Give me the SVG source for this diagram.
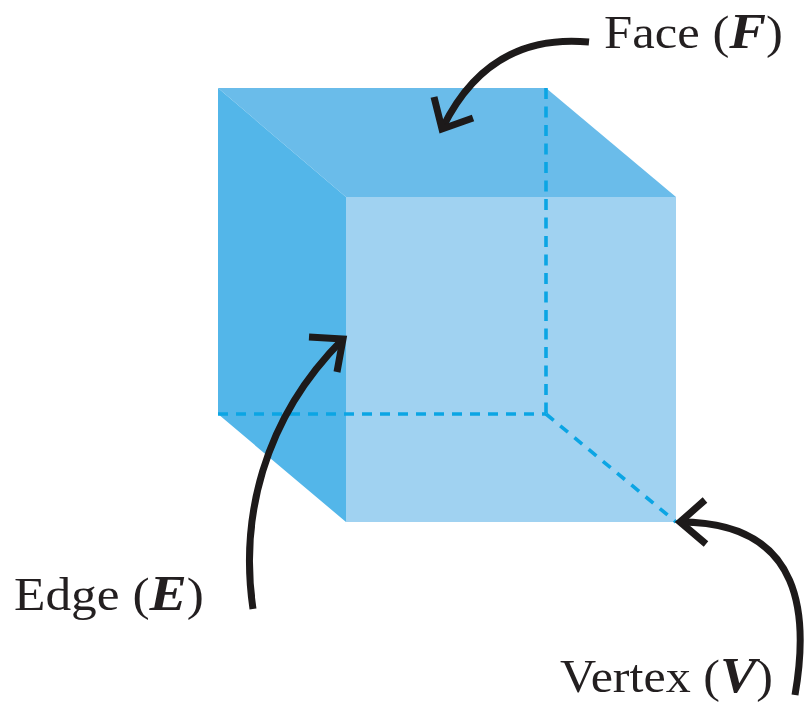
<svg xmlns="http://www.w3.org/2000/svg" width="804" height="704" viewBox="0 0 804 704">
<style>
.lbl{font-family:"Liberation Serif","Times New Roman",serif;font-size:46px;fill:#231f20}
.var{font-weight:bold;font-style:italic;font-size:50px}
.hid{fill:none;stroke:#0ba5e4;stroke-width:3.6}
.h{stroke-dasharray:10 8}
.v{stroke-dasharray:11 7.5}
.d{stroke-dasharray:10 8.5}
.arr{fill:none;stroke:#1d1a1a;stroke-width:7}
</style>
<rect width="804" height="704" fill="#fff"/>
<g id="cube">
<polygon id="face-top" points="218,88 546,88 676,197 346,197" fill="#6abcea"/>
<polygon id="face-left" points="218,88 346,197 346,522 218,414" fill="#53b6e9"/>
<polygon id="face-front" points="346,197 676,197 676,522 346,522" fill="#a0d2f1"/>
<path class="hid v" d="M546,88V414"/>
<path class="hid h" d="M218,414H546"/>
<path class="hid d" d="M546,414L676,522"/>
</g>
<g id="connectors">
<path class="arr" d="M589,42C525,36 475,62 443,127"/>
<path class="arr" d="M434,97L442,129L473,118"/>
<path class="arr" d="M253,609C240,520 262,420 343,339"/>
<path class="arr" d="M309,337L343,339L337,372"/>
<path class="arr" d="M795,695C808,620 806,522 680,522"/>
<path class="arr" d="M705,500L680,522L706,544"/>
</g>
<g id="label-face"><text class="lbl" x="604" y="48" textLength="179" lengthAdjust="spacingAndGlyphs">Face (<tspan class="var">F</tspan>)</text></g>
<g id="label-edge"><text class="lbl" x="14" y="610" textLength="190" lengthAdjust="spacingAndGlyphs">Edge (<tspan class="var">E</tspan>)</text></g>
<g id="label-vertex"><text class="lbl" x="560" y="692" textLength="213" lengthAdjust="spacingAndGlyphs">Vertex (<tspan class="var">V</tspan>)</text></g>
</svg>
